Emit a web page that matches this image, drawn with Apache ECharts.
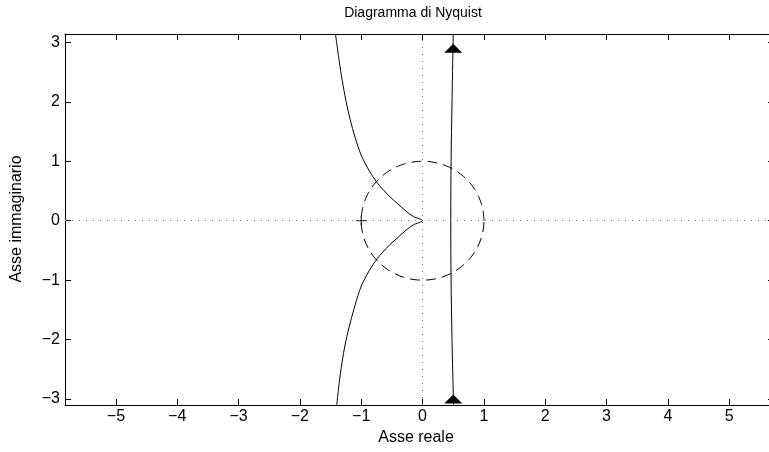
<!DOCTYPE html>
<html>
<head>
<meta charset="utf-8">
<script src="https://cdn.jsdelivr.net/npm/echarts@6/dist/echarts.min.js"></script>
<style>
  html, body { margin: 0; padding: 0; background: #fff; }
  #chart { width: 769px; height: 452px; }
</style>
</head>
<body>
<div id="chart"></div>
<script>
// Nyquist locus: branch that bends into the origin (upper and lower halves)
var cuspUpper = [
  [-1.42, 3.14], [-1.36, 2.69], [-1.31, 2.36], [-1.25, 2.02], [-1.18, 1.70],
  [-1.10, 1.40], [-1.00, 1.10], [-0.87, 0.84], [-0.75, 0.65], [-0.65, 0.53],
  [-0.53, 0.40], [-0.40, 0.28], [-0.27, 0.16], [-0.15, 0.07], [0, 0]
];
var cuspLower = [
  [0, 0], [-0.15, -0.07], [-0.27, -0.16], [-0.40, -0.28], [-0.53, -0.40],
  [-0.65, -0.53], [-0.74, -0.64], [-0.87, -0.84], [-1.00, -1.10], [-1.10, -1.42],
  [-1.18, -1.72], [-1.25, -2.02], [-1.30, -2.30], [-1.35, -2.65], [-1.40, -3.10]
];
// Nearly vertical branch close to Re = 0.5
var nearVertical = [
  [0.505, -3.10], [0.48, -2.0], [0.465, -1.0], [0.46, 0.0],
  [0.465, 1.0], [0.48, 2.0], [0.50, 3.14]
];
// Direction arrows on the near-vertical branch
var arrowPoints = [[0.5, 2.90], [0.5, -3.00]];
// Critical point -1 + j0
var criticalPoint = [[-1, 0]];
// Unit circle radius
var unitRadius = 1;

// Axis ranges and tick labels
var xRange = [-5.83, 5.73];
var yRange = [-3.10, 3.14];
var xTicks = [-5, -4, -3, -2, -1, 0, 1, 2, 3, 4, 5];
var yTicks = [-3, -2, -1, 0, 1, 2, 3];

var titleText = 'Diagramma di Nyquist';
var xLabelText = 'Asse reale';
var yLabelText = 'Asse immaginario';

var circlePts = [];
for (var i = 0; i <= 180; i++) {
  var a = (i / 180) * 2 * Math.PI;
  circlePts.push([unitRadius * Math.cos(a), unitRadius * Math.sin(a)]);
}

var FONT = "'Liberation Sans', Arial, Helvetica, sans-serif";
var FS = 16;
function fmt(v) { return v < 0 ? '\u2212' + Math.abs(v) : String(v); }

function makeX(pos, labels) {
  return {
    type: 'value', position: pos, min: xRange[0], max: xRange[1],
    axisLine: { show: true, onZero: false, lineStyle: { color: '#000', width: 1 } },
    axisTick: { show: true, inside: true, length: 6, customValues: xTicks,
      lineStyle: { color: '#000', width: 1 } },
    axisLabel: { show: labels, customValues: xTicks, formatter: fmt, margin: 4,
      color: '#000', fontSize: FS, fontFamily: FONT },
    splitLine: { show: false }
  };
}
function makeY(pos, labels) {
  return {
    type: 'value', position: pos, min: yRange[0], max: yRange[1],
    axisLine: { show: true, onZero: false, lineStyle: { color: '#000', width: 1 } },
    axisTick: { show: true, inside: true, length: 6, customValues: yTicks,
      lineStyle: { color: '#000', width: 1 } },
    axisLabel: { show: labels, customValues: yTicks, formatter: fmt, margin: 5,
      color: '#000', fontSize: FS, fontFamily: FONT },
    splitLine: { show: false }
  };
}

var chart = echarts.init(document.getElementById('chart'), null, { renderer: 'canvas' });
chart.setOption({
  animation: false,
  backgroundColor: '#fff',
  grid: { left: 65, top: 34, width: 709, bottom: 47, containLabel: false, outerBoundsMode: 'none' },
  xAxis: [makeX('bottom', true), makeX('top', false)],
  yAxis: [makeY('left', true), makeY('right', false)],
  graphic: [
    { type: 'text', x: 413, y: 13, style: { text: titleText, fill: '#000',
      font: '14px ' + FONT, textAlign: 'center', textVerticalAlign: 'middle' } },
    { type: 'text', x: 416, y: 438, style: { text: xLabelText, fill: '#000',
      font: FS + 'px ' + FONT, textAlign: 'center', textVerticalAlign: 'middle' } },
    { type: 'text', x: 17, y: 219, rotation: Math.PI / 2, style: { text: yLabelText, fill: '#000',
      font: FS + 'px ' + FONT, textAlign: 'center', textVerticalAlign: 'middle' } }
  ],
  series: [
    {
      // dotted zero axes
      type: 'line', data: [], xAxisIndex: 0, yAxisIndex: 0,
      markLine: {
        silent: true, symbol: 'none', label: { show: false },
        lineStyle: { color: '#777', width: 1, type: [1, 6] },
        data: [{ xAxis: 0 }, { yAxis: 0 }]
      }
    },
    {
      type: 'line', data: circlePts, symbol: 'none', smooth: false,
      lineStyle: { color: '#000', width: 1, type: [10, 6] }
    },
    {
      type: 'line', data: cuspUpper.concat(cuspLower.slice(1)), symbol: 'none', smooth: 0.3,
      lineStyle: { color: '#000', width: 1 }
    },
    {
      type: 'line', data: nearVertical, symbol: 'none', smooth: 0.3,
      lineStyle: { color: '#000', width: 1 }
    },
    {
      type: 'scatter', data: arrowPoints, symbol: 'triangle', symbolSize: [18, 9],
      itemStyle: { color: '#000', opacity: 1 }
    },
    {
      type: 'scatter', data: criticalPoint,
      symbol: 'path://M0,5 L10,5 M5,0 L5,10', symbolSize: 10,
      itemStyle: { color: 'none', borderColor: '#000', borderWidth: 1, opacity: 1 }
    }
  ]
});
</script>
</body>
</html>
